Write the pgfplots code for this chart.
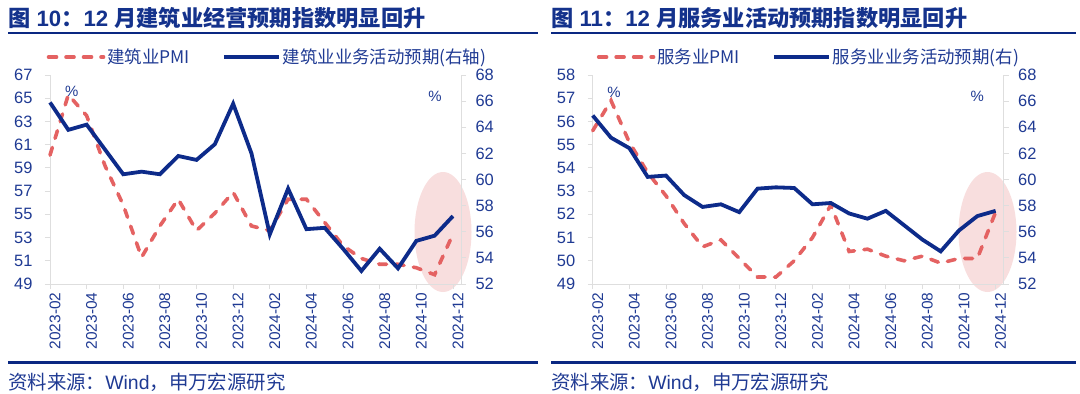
\documentclass[border=0pt]{standalone}
\usepackage{pgfplots}
\pgfplotsset{compat=1.18}
\usepackage{fontspec}
\setmainfont{Liberation Sans}
\newfontfamily\cjk{Noto Sans CJK SC}
\definecolor{navy}{RGB}{13,43,138}
\definecolor{tickblue}{RGB}{31,58,147}
\definecolor{pmired}{RGB}{228,98,98}
\definecolor{ellpink}{RGB}{248,222,222}
\definecolor{axgray}{RGB}{222,222,222}
\definecolor{titleblue}{RGB}{20,50,140}
\definecolor{rulecol}{RGB}{10,40,130}

\pgfplotstableread{
i  a     b
0  60.1  65.9
1  65.3  63.8
2  63.5  64.2
3  59.2  62.3
4  55.8  60.4
5  51.3  60.6
6  54.0  60.4
7  56.3  61.8
8  53.6  61.5
9  55.1  62.7
10 56.9  65.8
11 54.0  62.0
12 53.6  55.8
13 56.3  59.3
14 56.3  56.2
15 54.3  56.3
16 52.3  54.7
17 51.2  53.0
18 50.7  54.7
19 50.7  53.2
20 50.4  55.3
21 49.8  55.7
22 53.3  57.2
}\leftdata

\pgfplotstableread{
i  a     b
0  55.6  64.9
1  56.9  63.2
2  55.1  62.4
3  53.8  60.2
4  52.8  60.3
5  51.6  58.8
6  50.6  57.9
7  50.9  58.1
8  50.1  57.5
9  49.3  59.3
10 49.3  59.4
11 50.0  59.35
12 51.0  58.1
13 52.4  58.2
14 50.4  57.4
15 50.5  57.0
16 50.2  57.6
17 50.0  56.5
18 50.2  55.4
19 49.9  54.5
20 50.1  56.1
21 50.1  57.2
22 52.1  57.6
}\rightdata

\pgfplotsset{
  base/.style={
    scale only axis, width=411bp, height=209bp,
    xmin=0, xmax=22.44,
    anchor=south west,
    axis line style={axgray, line width=0.8bp},
    tick style={axgray, line width=0.8bp},
    tick align=outside,
    major tick length=5bp,
    ticklabel style={font=\fontsize{16.5}{16.5}\selectfont, text=tickblue},
    /pgf/number format/assume math mode=true,
    clip=false,
  },
  leftax/.style={base,
    axis y line*=left, axis x line*=bottom,
    xtick={0,2,...,22},
    xticklabels={2023-02,2023-04,2023-06,2023-08,2023-10,2023-12,2024-02,2024-04,2024-06,2024-08,2024-10,2024-12},
    xticklabel style={rotate=90, anchor=east, font=\fontsize{15.5}{15.5}\selectfont, yshift=-5bp},
    yticklabel style={xshift=-9bp},
    legend style={draw=none, fill=none, inner sep=0pt, outer sep=0pt,
      font=\cjk\fontsize{17.5}{17.5}\selectfont, text=tickblue,
      legend columns=2, anchor=west,
      nodes={inner sep=2bp},
      /tikz/every even column/.append style={column sep=30bp}},
    legend image code/.code={\draw[##1] (0bp,0bp) -- (55bp,0bp);},
  },
  rightax/.style={base,
    axis y line*=right, axis x line=none,
    ymin=52, ymax=68, ytick={52,54,...,68},
    yticklabel style={xshift=6bp},
  },
  redline/.style={pmired, line width=3.6bp, line cap=round, dash pattern=on 8bp off 9.5bp},
  blueline/.style={navy, line width=3.8bp},
}

\begin{document}
\begin{tikzpicture}[x=1bp,y=1bp]
\useasboundingbox (0,0) rectangle (1080,393);

% ---------- Left panel ----------
\node[anchor=west, text=titleblue, font=\fontsize{22.3}{22.3}\selectfont\bfseries, inner sep=0pt] at (8,375)
  {{\cjk 图} 10{\cjk ：}12 {\cjk 月建筑业经营预期指数明显回升}};
\draw[rulecol, line width=2.5bp] (8,360) -- (538,360);
\fill[ellpink] (443,161) ellipse [x radius=28.5, y radius=60];

\begin{axis}[leftax, at={(50bp,109bp)}, ymin=49, ymax=67, ytick={49,51,...,67},
  legend style={at={(-0.008,1.086)}}]
\addplot[redline] table[x=i, y=a] {\leftdata};
\addlegendentry{建筑业PMI}
\addlegendimage{blueline}
\addlegendentry{建筑业业务活动预期(右轴)}
\end{axis}
\begin{axis}[rightax, at={(50bp,109bp)}]
\addplot[blueline] table[x=i, y=b] {\leftdata};
\end{axis}
\node[text=tickblue, font=\fontsize{15}{15}\selectfont] at (71.7,301.3) {\%};
\node[text=tickblue, font=\fontsize{15}{15}\selectfont] at (435,296.3) {\%};

\draw[rulecol, line width=3bp] (8,31) -- (538,31);
\node[anchor=west, text=tickblue, font=\cjk\fontsize{19.5}{19.5}\selectfont, inner sep=0pt] at (8,11)
  {资料来源：{\rmfamily Wind}，申万宏源研究};

% ---------- Right panel ----------
\node[anchor=west, text=titleblue, font=\fontsize{22.3}{22.3}\selectfont\bfseries, inner sep=0pt] at (551,375)
  {{\cjk 图} 11{\cjk ：}12 {\cjk 月服务业活动预期指数明显回升}};
\draw[rulecol, line width=2.5bp] (551,360) -- (1076,360);
\fill[ellpink] (987.5,161) ellipse [x radius=29, y radius=60];

\begin{axis}[leftax, at={(592.7bp,109bp)}, ymin=49, ymax=58, ytick={49,50,...,58},
  legend style={at={(0.01,1.086)}}]
\addplot[redline] table[x=i, y=a] {\rightdata};
\addlegendentry{服务业PMI}
\addlegendimage{blueline}
\addlegendentry{服务业业务活动预期(右)}
\end{axis}
\begin{axis}[rightax, at={(592.7bp,109bp)}]
\addplot[blueline] table[x=i, y=b] {\rightdata};
\end{axis}
\node[text=tickblue, font=\fontsize{15}{15}\selectfont] at (614,300.3) {\%};
\node[text=tickblue, font=\fontsize{15}{15}\selectfont] at (977.3,296.3) {\%};

\draw[rulecol, line width=3bp] (551,31) -- (1076,31);
\node[anchor=west, text=tickblue, font=\cjk\fontsize{19.5}{19.5}\selectfont, inner sep=0pt] at (551,11)
  {资料来源：{\rmfamily Wind}，申万宏源研究};
\end{tikzpicture}
\end{document}
